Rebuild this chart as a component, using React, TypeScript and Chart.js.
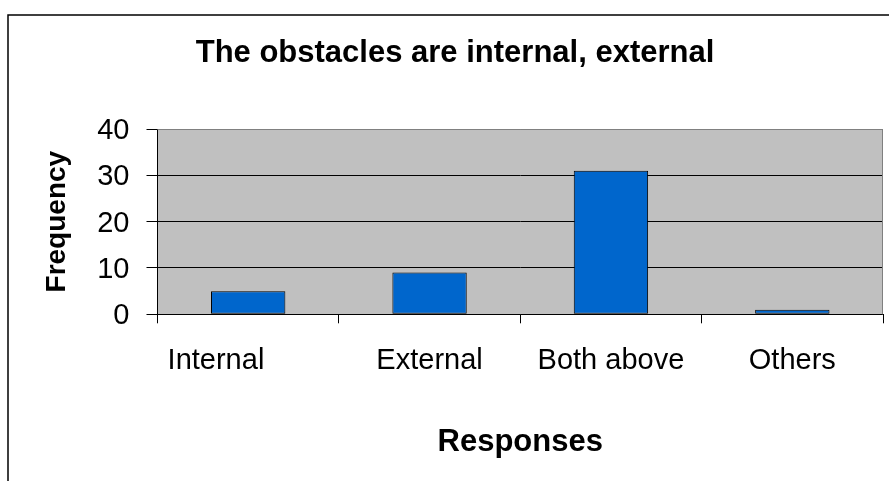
import React, { useEffect, useRef } from "react";
import { Chart, registerables } from "chart.js";

Chart.register(...registerables);

const chartTitle = "The obstacles are internal, external";
const categories = ["Internal        ", "External", "Both above", "Others"];
const frequency = [5, 9, 31, 1];
const yTicks = [0, 10, 20, 30, 40];
const xAxisTitle = "Responses";
const yAxisTitle = "Frequency";

const FONT = "'Liberation Sans', Arial, sans-serif";

// Grey plot background, its top/right border, the outer frame and the heading.
const framePlugin = {
  id: "frame",
  beforeDraw(chart: any) {
    const { ctx, chartArea } = chart;
    ctx.save();
    ctx.fillStyle = "#C0C0C0";
    ctx.fillRect(chartArea.left, chartArea.top, chartArea.right - chartArea.left, chartArea.bottom - chartArea.top);
    ctx.restore();
  },
  afterDatasetsDraw(chart: any) {
    const { ctx, chartArea } = chart;
    ctx.save();
    ctx.strokeStyle = "#808080";
    ctx.lineWidth = 1;
    ctx.beginPath();
    ctx.moveTo(chartArea.left, chartArea.top + 0.5);
    ctx.lineTo(chartArea.right, chartArea.top + 0.5);
    ctx.moveTo(chartArea.right - 0.5, chartArea.top);
    ctx.lineTo(chartArea.right - 0.5, chartArea.bottom);
    ctx.stroke();
    ctx.restore();
  },
  afterDraw(chart: any) {
    const { ctx } = chart;
    ctx.save();
    ctx.strokeStyle = "#000";
    ctx.lineWidth = 1.5;
    ctx.strokeRect(8, 15, 1200, 1000);
    ctx.fillStyle = "#000";
    ctx.font = `bold 31px ${FONT}`;
    ctx.textAlign = "center";
    ctx.textBaseline = "alphabetic";
    ctx.fillText(chartTitle, 455, 61.5);
    ctx.restore();
  },
};

export default function App() {
  const canvasRef = useRef<HTMLCanvasElement | null>(null);

  useEffect(() => {
    if (!canvasRef.current) return;
    const chart = new Chart(canvasRef.current, {
      type: "bar",
      data: {
        labels: categories,
        datasets: [
          {
            data: frequency,
            backgroundColor: "#0066CC",
            borderColor: "#000",
            borderWidth: 1,
            borderSkipped: false,
            barPercentage: 0.41,
            categoryPercentage: 1,
          },
        ],
      },
      options: {
        responsive: false,
        animation: false,
        devicePixelRatio: 1,
        layout: { padding: { top: 129, right: 6, bottom: 0, left: 0 } },
        plugins: {
          legend: { display: false },
          tooltip: { enabled: false },
          title: { display: false },
        },
        scales: {
          x: {
            type: "category",
            offset: true,
            grid: {
              offset: true,
              drawOnChartArea: false,
              tickLength: 9,
              color: "#000",
              tickColor: "#000",
            },
            border: { display: true, color: "#000", width: 1 },
            ticks: {
              color: "#000",
              padding: 20,
              maxRotation: 0,
              autoSkip: false,
              font: { family: FONT, size: 29 },
            },
            title: {
              display: true,
              text: xAxisTitle,
              color: "#000",
              font: { family: FONT, size: 31, weight: "bold" },
              padding: { top: 0, bottom: 20 },
            },
            afterFit(scale: any) {
              scale.height = 166.7;
            },
          },
          y: {
            min: 0,
            max: 40,
            afterBuildTicks(scale: any) {
              scale.ticks = yTicks.map((v) => ({ value: v }));
            },
            grid: {
              color: (c: any) => (c.tick && c.tick.value === 40 ? "#808080" : "#000"),
              tickColor: "#000",
              tickLength: 11,
              lineWidth: 1,
            },
            border: { display: true, color: "#000", width: 1 },
            ticks: {
              color: "#000",
              padding: 17,
              labelOffset: 2,
              font: { family: FONT, size: 29 },
            },
            title: {
              display: true,
              text: yAxisTitle,
              color: "#000",
              font: { family: FONT, size: 28, weight: "bold" },
              padding: { top: 40, bottom: 0 },
            },
            afterFit(scale: any) {
              scale.width = 157.5;
            },
          },
        },
      },
      plugins: [framePlugin],
    });
    return () => chart.destroy();
  }, []);

  return (
    <div style={{ position: "absolute", left: 0, top: 0, width: 889, height: 481, background: "#fff" }}>
      <canvas ref={canvasRef} width={889} height={481} style={{ display: "block", width: 889, height: 481 }} />
    </div>
  );
}
